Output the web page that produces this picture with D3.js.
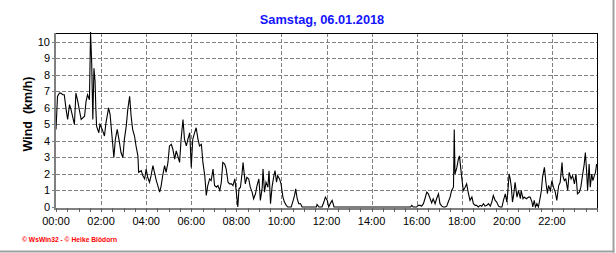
<!DOCTYPE html>
<html><head><meta charset="utf-8">
<script src="https://cdn.jsdelivr.net/npm/d3@7"></script>
<style>
html,body{margin:0;padding:0;background:#fff;}
svg{display:block;}
text{font-family:"Liberation Sans",Arial,sans-serif;}
</style></head>
<body>
<svg id="c" width="616" height="253"></svg>
<script>
const title = "Samstag, 06.01.2018";
const yLabel = "Wind  (km/h)";
const credit = "© WsWin32 - © Heike Blödorn";
const xTickLabels = ["00:00","02:00","04:00","06:00","08:00","10:00","12:00","14:00","16:00","18:00","20:00","22:00"];
const yTickValues = [0,1,2,3,4,5,6,7,8,9,10];

// time of each reading in minutes after midnight
const minutes = [
0,4,9,13,18,22,27,31,36,40,49,53,58,62,67,76,80,84,89,92,95,98,101,104,106,108,114,117,123,129,133,140,144,149,154,158,163,169,173,178,182,187,191,196,200,204,209,213,218,220,227,231,236,240,244,249,253,258,262,267,271,276,280,284,289,293,298,302,307,311,316,320,324,329,333,338,342,347,351,356,360,364,369,373,378,382,387,391,396,400,404,409,413,418,422,427,431,436,440,444,449,453,458,462,467,471,476,480,484,487,
491,495,498,500,504,508,513,517,522,526,531,535,540,544,549,551,555,559,564,567,571,575,580,583,587,590,595,599,604,608,613,617,626,630,635,638,642,646,651,655,693,695,700,708,713,717,722,726,731,735,740,944,947,951,
960,964,969,973,978,982,987,991,996,1000,1004,1009,1013,1018,1022,1027,1031,1036,1040,1044,1049,1053,1058,1060,1062,1067,1071,1074,1077,1081,1084,1089,1093,1098,1102,1107,1111,1116,1120,1124,1129,1133,1138,1142,1147,1151,1156,1160,1164,1169,1173,1178,1182,1187,1191,1196,1200,1203,1206,1209,1212,1215,1218,1222,1227,1231,1236,1238,1243,1246,1252,1258,1262,1267,1269,1273,1276,1280,1284,1289,1292,1295,1300,1304,1308,1311,1316,1320,1324,1329,1333,1338,1342,1347,1349,1353,1357,1362,1366,1371,1375,1380,1384,1388,1393,1397,1402,1406,1409,1412,1415,1419,1422,1426,1429,1433,1436,1439
];
// wind speed in km/h
const windKmh = [
4.7,6.7,6.9,6.9,6.8,6.8,5.9,5.3,6.2,5.9,5.0,6.9,6.4,5.9,5.3,5.5,6.4,6.8,6.5,10.6,8.7,5.3,8.4,7.6,6.0,4.9,4.5,5.0,4.7,4.3,5.1,6.0,5.6,4.3,3.0,4.1,4.7,3.9,3.3,3.0,4.1,4.9,5.9,6.7,5.5,4.7,4.3,3.7,3.1,2.1,2.2,1.9,1.7,2.3,1.8,1.5,1.9,2.5,2.1,1.6,1.3,0.9,1.3,1.9,2.5,2.1,2.7,3.7,3.8,3.5,2.9,3.4,3.1,2.7,4.1,5.3,4.1,3.7,4.1,4.5,2.4,4.1,4.5,4.8,4.1,3.7,3.8,2.7,1.9,0.7,1.3,1.7,1.6,2.3,1.3,1.2,1.3,1.0,1.5,2.7,2.6,2.3,1.5,1.4,1.4,1.3,1.7,0.9,0.0,1.1,
1.2,2.0,2.7,2.2,1.4,1.8,1.7,1.2,0.9,0.5,0.8,1.3,1.7,0.4,1.2,2.3,0.9,1.5,1.2,2.2,0.2,1.2,1.9,2.2,1.5,1.9,1.7,1.4,0.6,0.3,0.1,0,0,0.3,0.7,1.1,0.5,0.2,0.2,0,0,0.15,0,0,0.3,0.6,0.4,0,0.25,0.4,0,0,0.1,0,
0,0.1,0.1,0.05,0.2,0.5,0.9,0.8,0.5,0.25,0.5,0.2,0.5,0.8,0.2,0.05,0,0,0.05,0.3,0.6,1.0,1.2,4.7,2.0,2.4,2.9,3.1,2.4,1.6,1.0,1.2,1.4,0.8,0.4,0.6,0.2,0.1,0.1,0,0.1,0.05,0.2,0.05,0.1,0.2,0.05,0.3,0.7,0.4,0.3,0.05,0,0,0.4,0.8,0.3,1.0,2.0,1.7,1.2,0.3,0.7,1.5,0.6,1.0,0.5,1.0,0.5,0.6,0.5,0.6,0.6,0.3,0,0.4,0,0.2,0,0.6,1.0,1.8,2.4,1.5,0.8,1.3,1.0,1.6,1.2,0.9,0.4,1.3,1.5,2.7,1.9,1.6,1.7,1.0,2.1,1.7,1.9,1.4,2.0,0.8,0.9,1.2,2.0,2.6,3.3,2.3,1.0,2.6,1.2,2.0,1.6,1.9,2.1,2.6
];

const svg = d3.select("#c");
const L = 56, R = 597, T = 33, B = 207;
const x = d3.scaleLinear().domain([0, 1440]).range([L, R]);
const y = d3.scaleLinear().domain([0, 10.6]).range([B, T - 1]);

// outer frame (right/bottom)
svg.append("line").attr("x1",613.5).attr("x2",613.5).attr("y1",0).attr("y2",252.5)
  .attr("stroke","#a0a0a0").attr("stroke-width",2);
svg.append("line").attr("x1",0).attr("x2",614.5).attr("y1",251.5).attr("y2",251.5)
  .attr("stroke","#a0a0a0").attr("stroke-width",2);

// title
svg.append("text").attr("x",322).attr("y",24).attr("text-anchor","middle")
  .attr("font-size",12.8).attr("font-weight","bold").attr("fill","#1414ff").text(title);

// grid
const g = svg.append("g").attr("shape-rendering","crispEdges");
g.selectAll(".hg").data(yTickValues.filter(v=>v>0)).join("line")
  .attr("x1",L).attr("x2",R).attr("y1",d=>Math.round(y(d))+0.5).attr("y2",d=>Math.round(y(d))+0.5)
  .attr("stroke","#808080").attr("stroke-dasharray","4,2");
const xGridMins = xTickLabels.map((s,i)=>i*120).filter(m=>m>0);
g.selectAll(".vg").data(xGridMins).join("line")
  .attr("x1",d=>Math.round(x(d))+0.5).attr("x2",d=>Math.round(x(d))+0.5).attr("y1",T).attr("y2",B)
  .attr("stroke","#808080").attr("stroke-dasharray","4,2");

// top and right frame of plot
g.append("line").attr("x1",L).attr("x2",R+1).attr("y1",T+0.5).attr("y2",T+0.5).attr("stroke","#000");
g.append("line").attr("x1",R+0.5).attr("x2",R+0.5).attr("y1",T).attr("y2",B+1).attr("stroke","#000");

// data line
const line = d3.line().x((d,i)=>x(minutes[i])).y(d=>y(d));
svg.append("path").datum(windKmh).attr("d",line)
  .attr("fill","none").attr("stroke","#000").attr("stroke-width",1.1).attr("stroke-linejoin","miter");

// axes (gray thick)
const xAxis = d3.axisBottom(x).tickValues(d3.range(0,1441,30)).tickSize(4).tickFormat("");
const ax = svg.append("g").attr("transform",`translate(0,${B+1})`).call(xAxis).attr("shape-rendering","crispEdges");
ax.select(".domain").attr("stroke","#808080").attr("stroke-width",2).attr("d",`M${L-2},0.5H${R}`);
ax.selectAll(".tick line").attr("stroke","#606060");

const yAxis = d3.axisLeft(y).tickValues(yTickValues).tickSize(3).tickFormat("");
const ay = svg.append("g").attr("transform",`translate(${L-1},0)`).call(yAxis).attr("shape-rendering","crispEdges");
ay.select(".domain").attr("stroke","#808080").attr("stroke-width",2).attr("d",`M0,${T}V${B+2}`);
ay.selectAll(".tick line").attr("stroke","#808080");

// tick labels
svg.append("g").selectAll("text").data(xTickLabels).join("text")
  .attr("x",(d,i)=>x(i*120)).attr("y",225).attr("text-anchor","middle")
  .attr("font-size",11).attr("fill","#000").text(d=>d);
svg.append("g").selectAll("text").data(yTickValues).join("text")
  .attr("x",50).attr("y",d=>y(d)+4).attr("text-anchor","end")
  .attr("font-size",11).attr("fill","#000").text(d=>d);

// y label
svg.append("text").attr("transform","translate(32,114) rotate(-90)").attr("text-anchor","middle")
  .style("white-space","pre")
  .attr("font-size",12.5).attr("font-weight","bold").attr("fill","#000").text(yLabel);

// credit
svg.append("text").attr("x",22).attr("y",241.5).attr("font-size",7).attr("font-weight","bold")
  .attr("fill","#ff0000").attr("textLength",95).attr("lengthAdjust","spacingAndGlyphs").text(credit);
</script>
</body></html>
